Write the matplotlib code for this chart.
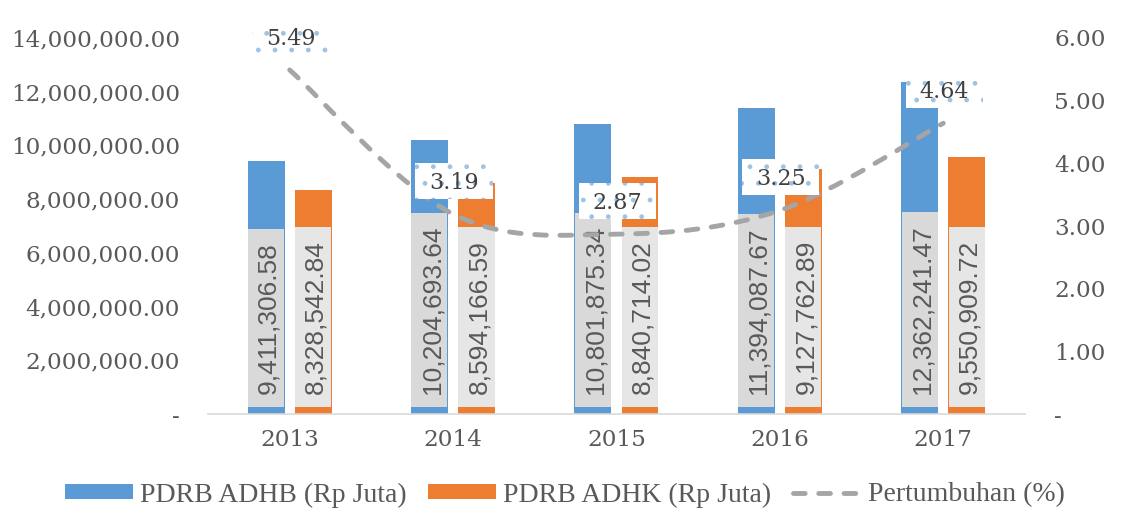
import numpy as np
import matplotlib
matplotlib.use('Agg')
import matplotlib.pyplot as plt
from matplotlib.path import Path
from matplotlib.patches import Patch, PathPatch
from matplotlib.lines import Line2D
from matplotlib.ticker import FuncFormatter, MultipleLocator

# data
years = ['2013', '2014', '2015', '2016', '2017']
adhb = [9411306.58, 10204693.64, 10801875.34, 11394087.67, 12362241.47]
adhk = [8328542.84, 8594166.59, 8840714.02, 9127762.89, 9550909.72]
growth = [5.49, 3.19, 2.87, 3.25, 4.64]

blue = '#5b9bd5'
orange = '#ed7d31'
line_gray = '#a5a5a5'
txt = '#595959'
dash = (0, (2.4, 2.8))

plt.rcParams['font.family'] = 'DejaVu Serif'


def pad_box(fx, fb, ft):
    # square box, padding along the text (fx) and below/above it (fb, ft)
    def style(x0, y0, width, height, mutation_size):
        px = fx * mutation_size
        pb, pt = fb * mutation_size, ft * mutation_size
        verts = [(x0 - px, y0 - pb), (x0 + width + px, y0 - pb),
                 (x0 + width + px, y0 + height + pt), (x0 - px, y0 + height + pt),
                 (x0 - px, y0 - pb)]
        return Path(verts, closed=True)
    return style


fig = plt.figure(figsize=(11.26, 5.27), dpi=100)
ax = fig.add_axes([0.1847, 0.2144, 0.7256, 0.7135])
x = np.arange(len(years))
w = 0.226
off = 0.144

ax.bar(x - off, adhb, w, color=blue, zorder=2)
ax.bar(x + off, adhk, w, color=orange, zorder=2)

# data labels at the base of each bar
for xs, vals, box in [(x - off, adhb, '#d9d9d9'), (x + off, adhk, '#e7e6e6')]:
    for xi, v in zip(xs, vals):
        ax.annotate(f'{v:,.2f}', xy=(xi, 0), xytext=(2.5, 20), textcoords='offset pixels',
                    rotation=90, ha='center', va='bottom', fontsize=19,
                    family='Liberation Sans', color=txt, zorder=3,
                    bbox=dict(boxstyle=pad_box(0.49, 0.13, 0.33), facecolor=box, linewidth=0))

ax.set_xlim(-0.5, len(years) - 0.5)
ax.set_ylim(0, 14000000)
ax.yaxis.set_major_locator(MultipleLocator(2000000))
ax.yaxis.set_major_formatter(FuncFormatter(lambda v, p: '-' if v == 0 else f'{v:,.2f}'))
ax.set_xticks(x)
ax.set_xticklabels(years)
for s in ['top', 'right', 'left']:
    ax.spines[s].set_visible(False)
ax.spines['bottom'].set_color('#d9d9d9')
ax.spines['bottom'].set_linewidth(1.2)
ax.tick_params(axis='x', length=0, labelsize=16.7, colors=txt, pad=11)
ax.tick_params(axis='y', length=0, labelsize=16.7, colors=txt, pad=20)

# growth line on the secondary axis, smoothed with bezier segments
ax2 = ax.twinx()
ax2.set_ylim(0, 6)
ax2.yaxis.set_major_locator(MultipleLocator(1))
ax2.yaxis.set_major_formatter(FuncFormatter(lambda v, p: '-' if v == 0 else f'{v:.2f}'))
ax2.tick_params(axis='y', length=0, labelsize=16.7, colors=txt, pad=21)
for s in ax2.spines.values():
    s.set_visible(False)

pts = np.column_stack([x, growth]).astype(float)
verts = [pts[0]]
codes = [Path.MOVETO]
n = len(pts)
for i in range(n - 1):
    p0, p1 = pts[max(i - 1, 0)], pts[i]
    p2, p3 = pts[i + 1], pts[min(i + 2, n - 1)]
    verts += [p1 + (p2 - p0) / 6, p2 - (p3 - p1) / 6, p2]
    codes += [Path.CURVE4] * 3
curve = PathPatch(Path(verts, codes), fill=False, edgecolor=line_gray, linewidth=3.5,
                  linestyle=dash, capstyle='round', zorder=2)
ax2.add_patch(curve)

for xi, g in zip(x, growth):
    ax2.annotate(f'{g:.2f}', xy=(xi, g), xytext=(1, 31), textcoords='offset pixels',
                 ha='center', va='center', fontsize=16, color='#404040', zorder=5,
                 bbox=dict(boxstyle=pad_box(0.62, 0.2, 0.42), facecolor='white',
                           edgecolor='#9dc3e6', linewidth=0, hatch='.'))

handles = [Patch(facecolor=blue), Patch(facecolor=orange),
           Line2D([], [], color=line_gray, lw=3.5, linestyle=dash, dash_capstyle='round')]
labels = ['PDRB ADHB (Rp Juta)', 'PDRB ADHK (Rp Juta)', 'Pertumbuhan (%)']
fig.legend(handles, labels, loc='center', bbox_to_anchor=(565 / 1126, 1 - 495 / 527),
           ncol=3, frameon=False, handlelength=2.45, handleheight=0.43,
           handletextpad=0.25, columnspacing=0.79, labelcolor=txt,
           prop={'family': 'Liberation Serif', 'size': 20})

fig.savefig('out.png', dpi=100)
